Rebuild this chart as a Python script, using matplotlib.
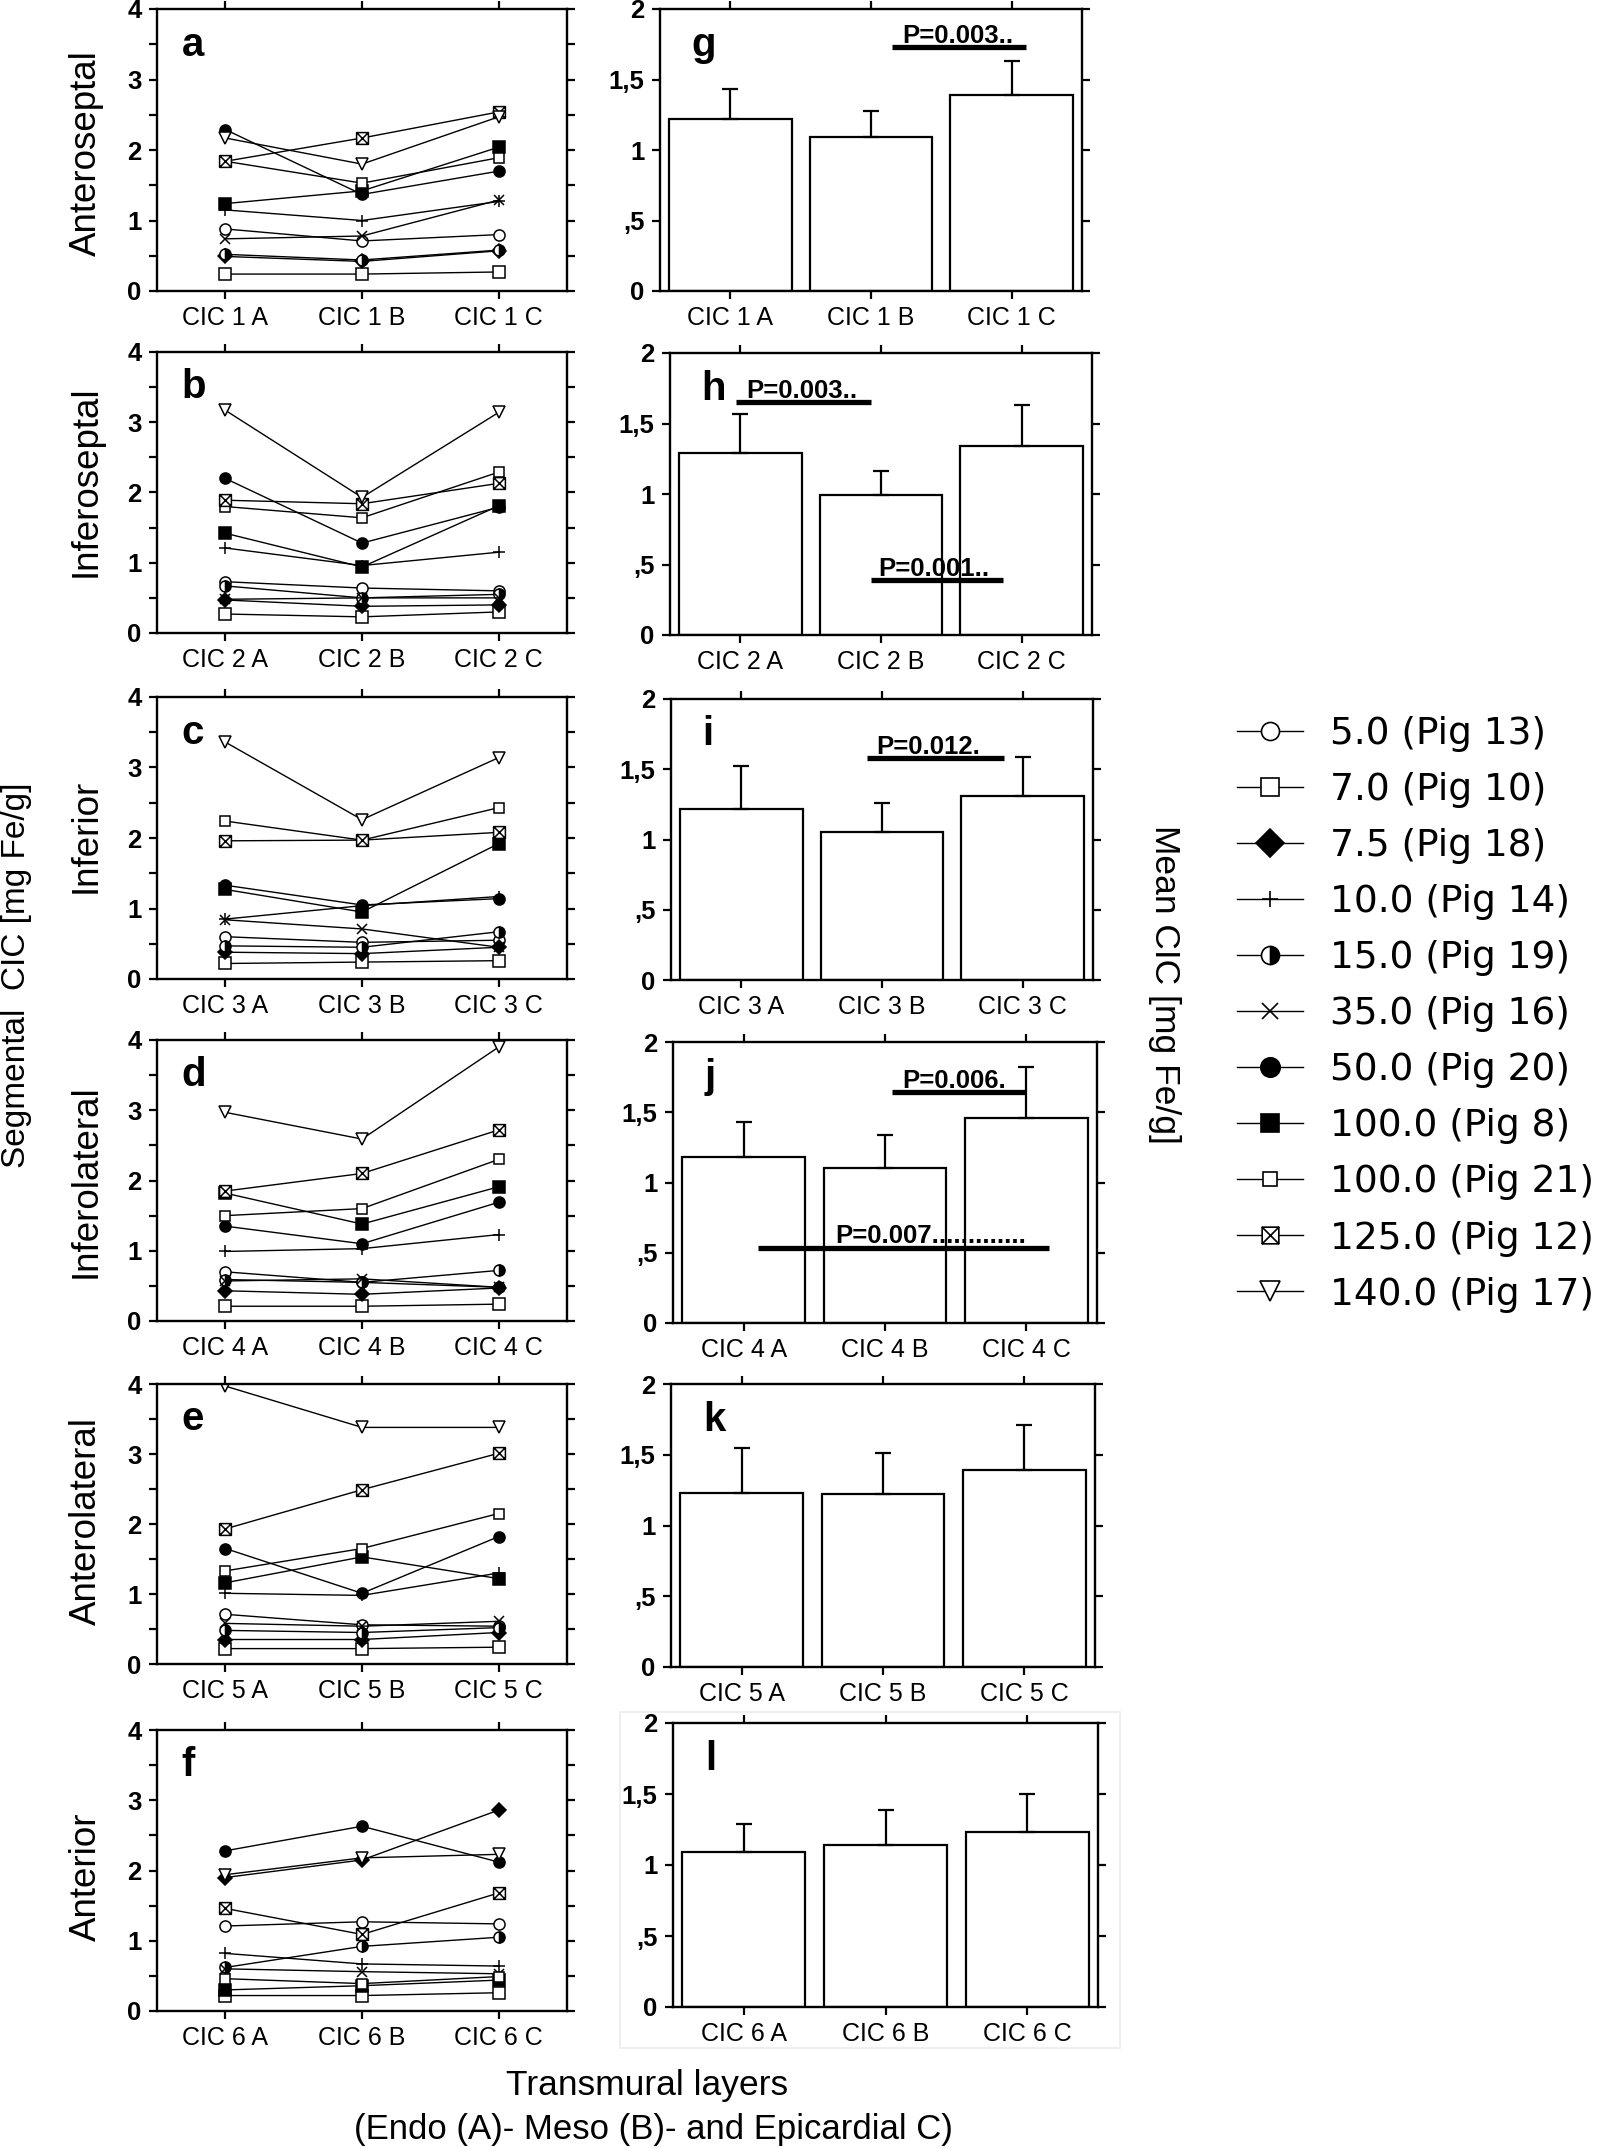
import numpy as np
import matplotlib
matplotlib.use('Agg')
import matplotlib.pyplot as plt
from matplotlib.path import Path
from matplotlib.lines import Line2D
from matplotlib.ticker import MultipleLocator

plt.rcParams['font.family'] = ['Liberation Sans', 'DejaVu Sans']

W, H = 1600, 2148

# ---- data ----
layers = ['A', 'B', 'C']
segments = ['Anteroseptal', 'Inferoseptal', 'Inferior', 'Inferolateral', 'Anterolateral', 'Anterior']
pigs = ['5.0 (Pig 13)', '7.0 (Pig 10)', '7.5 (Pig 18)', '10.0 (Pig 14)', '15.0 (Pig 19)',
        '35.0 (Pig 16)', '50.0 (Pig 20)', '100.0 (Pig 8)', '100.0 (Pig 21)',
        '125.0 (Pig 12)', '140.0 (Pig 17)']

# segmental CIC [mg Fe/g], one row per pig (legend order), columns A, B, C
anteroseptal = [[0.88, 0.71, 0.80], [0.24, 0.24, 0.27], [0.49, 0.42, 0.57], [1.15, 1.00, 1.27],
                [0.52, 0.44, 0.58], [0.74, 0.78, 1.29], [2.29, 1.37, 1.70], [1.24, 1.42, 2.04],
                [1.84, 1.53, 1.89], [1.84, 2.17, 2.54], [2.17, 1.80, 2.47]]
inferoseptal = [[0.73, 0.64, 0.60], [0.27, 0.23, 0.30], [0.47, 0.38, 0.40], [1.21, 0.96, 1.15],
                [0.67, 0.50, 0.55], [0.48, 0.50, 0.50], [2.20, 1.28, 1.79], [1.42, 0.94, 1.81],
                [1.80, 1.64, 2.29], [1.89, 1.84, 2.13], [3.17, 1.93, 3.14]]
inferior = [[0.60, 0.52, 0.55], [0.22, 0.24, 0.26], [0.38, 0.36, 0.45], [0.85, 1.04, 1.17],
            [0.47, 0.45, 0.67], [0.84, 0.71, 0.45], [1.33, 1.05, 1.14], [1.27, 0.95, 1.92],
            [2.24, 1.97, 2.43], [1.96, 1.97, 2.08], [3.36, 2.26, 3.14]]
inferolateral = [[0.70, 0.55, 0.48], [0.21, 0.21, 0.24], [0.43, 0.38, 0.47], [0.99, 1.03, 1.23],
                 [0.59, 0.55, 0.72], [0.57, 0.60, 0.48], [1.35, 1.10, 1.69], [1.82, 1.38, 1.91],
                 [1.50, 1.60, 2.30], [1.85, 2.10, 2.72], [2.97, 2.59, 3.90]]
anterolateral = [[0.71, 0.56, 0.54], [0.22, 0.22, 0.24], [0.35, 0.35, 0.45], [1.01, 0.98, 1.30],
                 [0.48, 0.45, 0.52], [0.58, 0.54, 0.61], [1.65, 1.01, 1.82], [1.16, 1.53, 1.22],
                 [1.33, 1.65, 2.15], [1.93, 2.49, 3.01], [3.97, 3.38, 3.38]]
anterior = [[1.21, 1.27, 1.24], [0.22, 0.22, 0.26], [1.90, 2.15, 2.86], [0.82, 0.67, 0.64],
            [0.62, 0.92, 1.05], [0.60, 0.56, 0.53], [2.28, 2.63, 2.12], [0.30, 0.36, 0.44],
            [0.46, 0.39, 0.49], [1.46, 1.09, 1.68], [1.94, 2.18, 2.23]]
seg_data = [anteroseptal, inferoseptal, inferior, inferolateral, anterolateral, anterior]

# mean CIC and SD per segment
mean_cic = [[1.22, 1.09, 1.39], [1.29, 0.99, 1.34], [1.22, 1.05, 1.31],
            [1.18, 1.10, 1.46], [1.23, 1.22, 1.39], [1.09, 1.14, 1.23]]
sd_cic = [[0.21, 0.19, 0.24], [0.28, 0.17, 0.29], [0.30, 0.21, 0.28],
          [0.25, 0.24, 0.36], [0.32, 0.29, 0.32], [0.20, 0.25, 0.27]]

# p-value annotations: (text, line x0, line x1, line y, text x)
p_notes = [
    [('P=0.003..', 1.15, 2.10, 1.73, 1.22)],
    [('P=0.003..', -0.03, 0.93, 1.65, 0.04), ('P=0.001..', 0.93, 1.87, 0.39, 0.98)],
    [('P=0.012.', 0.89, 1.87, 1.58, 0.96)],
    [('P=0.006.', 1.05, 1.99, 1.645, 1.12), ('P=0.007.............', 0.10, 2.16, 0.536, 0.65)],
    [],
    [],
]

# ---- styles ----
box_x = Path([(-1, -1), (1, -1), (1, 1), (-1, 1), (-1, -1), (-1, -1), (1, 1), (-1, 1), (1, -1)],
             [Path.MOVETO, Path.LINETO, Path.LINETO, Path.LINETO, Path.CLOSEPOLY,
              Path.MOVETO, Path.LINETO, Path.MOVETO, Path.LINETO])

styles = [
    dict(marker='o', markerfacecolor='white', markersize=8),
    dict(marker='s', markerfacecolor='white', markersize=9),
    dict(marker='D', markerfacecolor='black', markersize=7),
    dict(marker='+', markersize=8),
    dict(marker='o', markerfacecolor='black', fillstyle='right', markerfacecoloralt='white', markersize=8),
    dict(marker='x', markersize=7),
    dict(marker='o', markerfacecolor='black', markersize=8),
    dict(marker='s', markerfacecolor='black', markersize=8),
    dict(marker='s', markerfacecolor='white', markersize=6.5),
    dict(marker=box_x, markerfacecolor='white', markersize=8.5),
    dict(marker='v', markerfacecolor='white', markersize=9),
]
legend_sizes = [13, 13, 14, 11, 13, 11, 14, 13, 10, 12, 15]

left_rows = [(9, 291), (352, 633), (697, 979), (1040, 1321), (1384, 1664), (1730, 2011)]
right_rows = [(9, 291), (353, 635), (699, 980), (1042, 1323), (1384, 1667), (1723, 2007)]
right_x = [(660, 1082), (670, 1092), (671, 1093), (673, 1097), (671, 1095), (673, 1098)]
label_y = [153, 481, 836, 1181, 1521, 1877]
left_letters = 'abcdef'
right_letters = 'ghijkl'

fig = plt.figure(figsize=(16, 21.48), dpi=100)


def style_axes(ax):
    for s in ax.spines.values():
        s.set_linewidth(1.7)
    ax.tick_params(which='both', direction='out', top=True, right=True,
                   length=6, width=1.6, pad=5)
    ax.tick_params(axis='x', labelsize=18)
    ax.tick_params(axis='y', labelsize=18.5)
    for lbl in ax.get_yticklabels():
        lbl.set_fontweight('bold')


for i, seg in enumerate(segments):
    # left: individual pigs
    t, b = left_rows[i]
    ax = fig.add_axes([157 / W, 1 - b / H, 410 / W, (b - t) / H])
    for p in range(len(pigs)):
        ax.plot(range(3), seg_data[i][p], color='black', lw=1.0,
                markeredgecolor='black', markeredgewidth=1.1, **styles[p])
    ax.set_xlim(-0.5, 2.5)
    ax.set_ylim(0, 4)
    ax.set_xticks(range(3))
    ax.set_xticklabels([f'CIC {i + 1} {l}' for l in layers])
    ax.set_yticks([0, 1, 2, 3, 4])
    ax.yaxis.set_minor_locator(MultipleLocator(0.5))
    style_axes(ax)
    ax.text(0.06, 0.835, left_letters[i], transform=ax.transAxes,
            fontsize=29, fontweight='bold', va='baseline')
    fig.text(86 / W, 1 - label_y[i] / H, seg, rotation=90, ha='center', va='center', fontsize=26.5)

    # right: mean +- SD
    t, b = right_rows[i]
    x0, x1 = right_x[i]
    ax = fig.add_axes([x0 / W, 1 - b / H, (x1 - x0) / W, (b - t) / H])
    ax.bar(range(3), mean_cic[i], width=0.87, color='white', edgecolor='black', lw=1.6, zorder=2)
    ax.errorbar(range(3), mean_cic[i], yerr=[np.zeros(3), sd_cic[i]], fmt='none',
                ecolor='black', elinewidth=1.6, capsize=6, capthick=1.6, zorder=3)
    ax.set_xlim(-0.5, 2.5)
    ax.set_ylim(0, 2)
    ax.set_xticks(range(3))
    ax.set_xticklabels([f'CIC {i + 1} {l}' for l in layers])
    ax.set_yticks([0, 0.5, 1, 1.5, 2])
    ax.set_yticklabels(['0', ',5', '1', '1,5', '2'])
    style_axes(ax)
    ax.text(0.075, 0.835, right_letters[i], transform=ax.transAxes,
            fontsize=29, fontweight='bold', va='baseline')
    for txt, lx0, lx1, ly, tx in p_notes[i]:
        ax.plot([lx0, lx1], [ly, ly], color='black', lw=3.8, solid_capstyle='butt', zorder=4)
        ax.text(tx, ly + 0.03, txt, fontsize=18.5, fontweight='bold',
                va='baseline', ha='left', zorder=4)

# faint scan frame around panel l
fig.patches.append(plt.Rectangle((620 / W, 1 - 2048 / H), 500 / W, 336 / H,
                                 transform=fig.transFigure, fill=False,
                                 edgecolor='#ececec', lw=1.2))

# legend
handles = []
for p in range(len(pigs)):
    st = dict(styles[p])
    st['markersize'] = legend_sizes[p]
    handles.append(Line2D([0], [0], color='black', lw=1.0, markeredgecolor='black',
                          markeredgewidth=1.2, **st))
fig.legend(handles, pigs, loc='upper left', bbox_to_anchor=(1237 / W, 1 - 716 / H),
           frameon=False, borderpad=0, borderaxespad=0, handlelength=1.75,
           handletextpad=0.72, labelspacing=0.535,
           prop={'family': 'DejaVu Sans', 'size': 27})

fig.text(17 / W, 1 - 975 / H, 'Segmental  CIC [mg Fe/g]', rotation=90,
         ha='center', va='center', fontsize=24)
fig.text(1164 / W, 1 - 984 / H, 'Mean CIC [mg Fe/g]', rotation=270,
         ha='center', va='center', fontsize=25.5)
fig.text(647 / W, 1 - 2085 / H, 'Transmural layers', ha='center', va='center', fontsize=25.5)
fig.text(653 / W, 1 - 2130 / H, '(Endo (A)- Meso (B)- and Epicardial C)',
         ha='center', va='center', fontsize=25)

fig.savefig('out.png', dpi=100)
